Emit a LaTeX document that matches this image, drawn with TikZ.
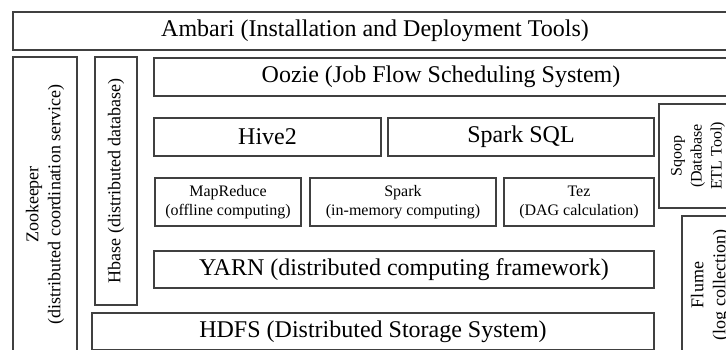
\documentclass[tikz,border=0pt]{standalone}
\usepackage{fontspec}
\setmainfont{Liberation Serif}

\begin{document}
\begin{tikzpicture}[x=1pt,y=-1pt,
  layer/.style={draw=black!75,line width=1.2pt,inner sep=0pt,align=center,
    font=\fontsize{24}{28}\selectfont},
  small/.style={layer,font=\fontsize{16}{19}\selectfont},
  side/.style={layer,rotate=90,font=\fontsize{18}{22}\selectfont}]
\useasboundingbox (0,0) rectangle (726,349);
\clip (0,0) rectangle (726,349);

% Top layers
\node[layer,minimum width=724,minimum height=38] (ambari) at (375,31) {Ambari (Installation and Deployment Tools)};
\node[layer,minimum width=574,minimum height=38] (oozie) at (441,77) {Oozie (Job Flow Scheduling System)};

% Query engines
\node[layer,minimum width=227,minimum height=38] (hive) at (267.5,137) {Hive2};
\node[layer,minimum width=266,minimum height=38] (sparksql) at (521,137) {Spark SQL};

% Computing engines
\node[small,minimum width=146,minimum height=48] (mapred) at (228,202) {MapReduce\\(offline computing)};
\node[small,minimum width=186,minimum height=48] (spark) at (403,202) {Spark\\(in-memory computing)};
\node[small,minimum width=150,minimum height=48] (tez) at (579,202) {Tez\\(DAG calculation)};

% Resource and storage
\node[layer,minimum width=500,minimum height=37] (yarn) at (404,269.5) {YARN (distributed computing framework)};
\node[layer,minimum width=562,minimum height=37] (hdfs) at (373,331.5) {HDFS (Distributed Storage System)};

% Side columns
\node[side,minimum width=295,minimum height=64] (zookeeper) at (45,204.5) {Zookeeper\\(distributed coordination service)};
\node[side,minimum width=248,minimum height=42] (hbase) at (116,181) {Hbase (distributed database)};
\node[side,minimum width=104,minimum height=78,font=\fontsize{16}{20}\selectfont] (sqoop) at (698,156) {Sqoop\\(Database\\ETL Tool)};
\node[side,minimum width=138,minimum height=56] (flume) at (710,285) {Flume\\(log collection)};

\end{tikzpicture}
\end{document}
